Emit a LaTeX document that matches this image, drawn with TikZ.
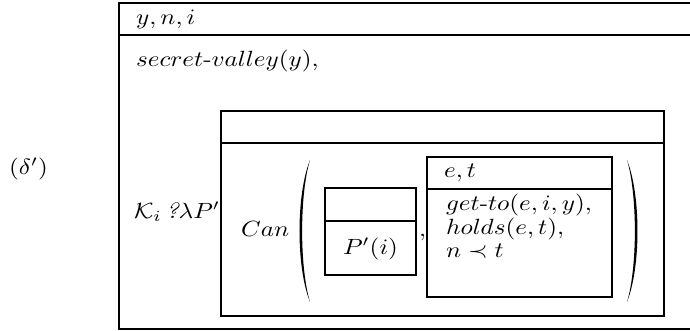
\documentclass[tikz,border=0pt]{standalone}
\begin{document}
\begin{tikzpicture}[x=0.386pt,y=-0.386pt,line width=0.9pt,
  txt/.style={inner sep=0pt,anchor=base west,xscale=0.97,yscale=0.85},
  ctxt/.style={inner sep=0pt,anchor=base,xscale=0.97,yscale=0.85}]
\useasboundingbox (0,0) rectangle (690,331);
% outer box (cut off at the right edge)
\draw (700,3) -- (119,3) -- (119,329) -- (700,329);
\draw (119,35) -- (700,35);
% inner box
\draw (221,111) rectangle (664,316);
\draw (221,143) -- (664,143);
% small box
\draw (325,188) rectangle (416,275);
\draw (325,221) -- (416,221);
% e,t box
\draw (427,157) rectangle (612,297);
\draw (427,189) -- (612,189);
% parentheses
\fill (310,160) .. controls (296,195) and (296,267) .. (310,302)
      .. controls (299.5,267) and (299.5,195) .. (310,160);
\fill (627,160) .. controls (641,195) and (641,267) .. (627,302)
      .. controls (637.5,267) and (637.5,195) .. (627,160);
% texts
\node[txt] (vars) at (135,24) {$y, n, i$};
\node[txt] (cond) at (135,66) {$secret\mbox{-}valley(y),$};
\node[txt] (label) at (8,174) {$(\delta')$};
\node[txt] (know) at (133,218) {$\mathcal{K}_i\,\textit{?}\lambda P'$};
\node[txt] (can) at (240,236) {$Can$};
\node[ctxt] (pi) at (370.5,254) {$P'(i)$};
\node[txt] (comma) at (418,236) {$,$};
\node[txt] (et) at (443,177) {$e, t$};
\node[txt] (g1) at (445,210) {$get\mbox{-}to(e, i, y),$};
\node[txt] (g2) at (445,234) {$holds(e, t),$};
\node[txt] (g3) at (445,257) {$n \prec t$};
\end{tikzpicture}
\end{document}
